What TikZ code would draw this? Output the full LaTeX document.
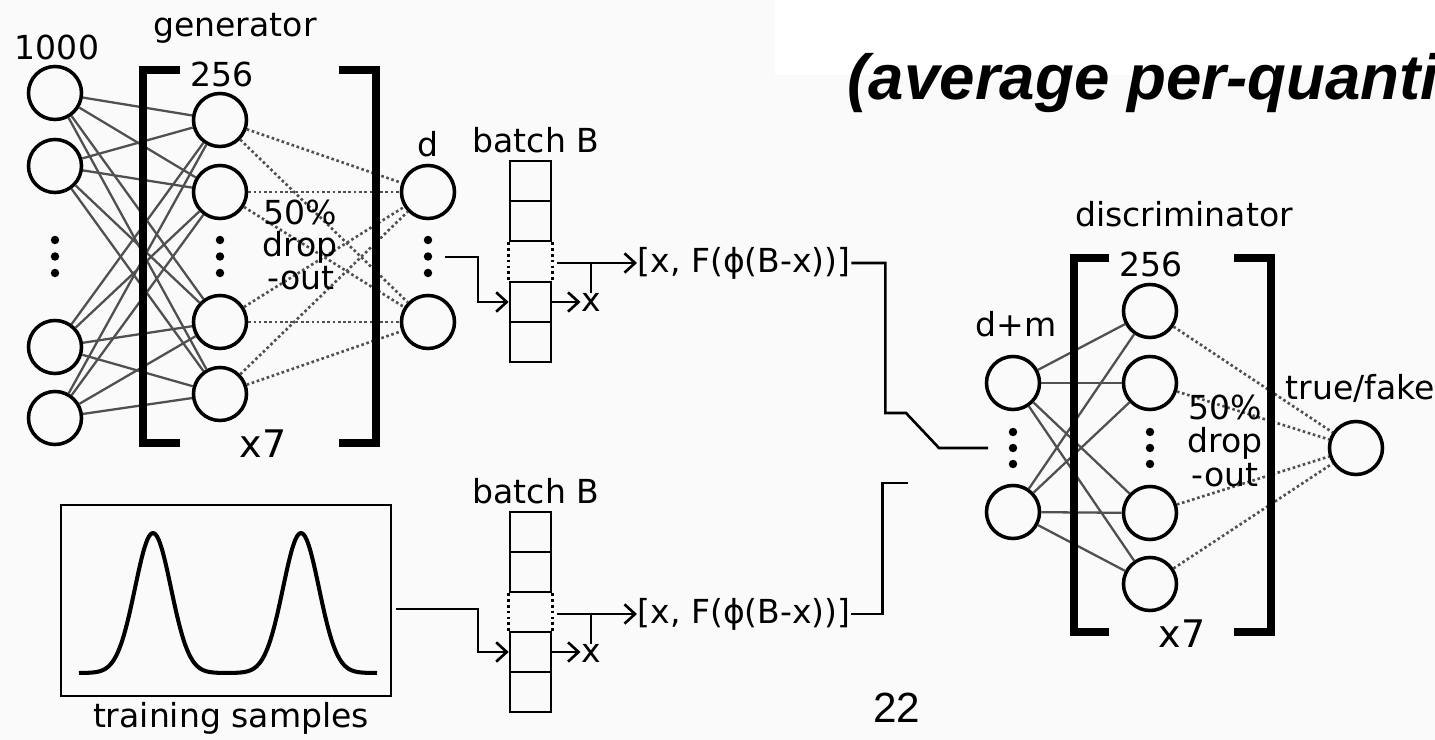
\documentclass[tikz,border=0pt]{standalone}
\usepackage{fontspec}
\setmainfont{DejaVu Sans}
\newfontfamily\hvfont{Liberation Sans}
\usetikzlibrary{arrows.meta}
\definecolor{bg}{RGB}{250,250,250}
\definecolor{conn}{RGB}{80,80,80}
\begin{document}
\begin{tikzpicture}[x=0.01cm,y=-0.01cm,
  neuron/.style={circle,draw=black,line width=1pt,minimum size=0.53cm,inner sep=0pt},
  lbl/.style={anchor=base,inner sep=0pt,font=\fontsize{9.4}{11}\selectfont},
  bigl/.style={anchor=base,inner sep=0pt,font=\fontsize{10.8}{13}\selectfont},
  solidc/.style={draw=conn,line width=0.65pt},
  dotc/.style={draw=conn,line width=0.75pt,dash pattern=on 0.75pt off 0.75pt},
  brk/.style={line width=2.3pt,line join=miter},
  wire/.style={line width=0.75pt},
  arr/.style={wire,-{Straight Barb[length=3pt,width=5.5pt]}},
  cell/.style={draw,line width=0.75pt,minimum width=0.41cm,minimum height=0.40cm,inner sep=0pt},
  gapdot/.style={line width=0.75pt,dash pattern=on 0.75pt off 0.9pt},
  formula/.style={anchor=west,inner sep=0pt,font=\fontsize{9.4}{11}\selectfont}
]
\useasboundingbox (0,0) rectangle (1435,740);
\fill[bg] (0,0) rectangle (1435,740);
\fill[white] (775,0) rectangle (1435,75);

% title and page number
\node[anchor=base west,inner sep=0pt,font=\hvfont\bfseries\itshape\fontsize{18.1}{21}\selectfont] (title) at (847,100) {(average per-quanti};
\node[anchor=base,inner sep=0pt,font=\hvfont\fontsize{12}{14}\selectfont] (pnum) at (897,723) {22};

% ---------- generator ----------
\node[neuron] (gi1) at (55,93) {};
\node[neuron] (gi2) at (55,166) {};
\node[neuron] (gi3) at (55,347) {};
\node[neuron] (gi4) at (55,418) {};
\node[neuron] (gh1) at (220,120) {};
\node[neuron] (gh2) at (220,192) {};
\node[neuron] (gh3) at (220,322) {};
\node[neuron] (gh4) at (220,394) {};
\node[neuron] (go1) at (428,192) {};
\node[neuron] (go2) at (428,322) {};

\foreach \i in {1,...,4} \foreach \j in {1,...,4} \draw[solidc] (gi\i) -- (gh\j);
\foreach \i in {1,...,4} \foreach \j in {1,2} \draw[dotc] (gh\i) -- (go\j);

\foreach \x in {55,220,428} \foreach \y in {240,256.5,273} \fill (\x,\y) circle (1.2pt);

\draw[brk] (180,70) -- (143,70) -- (143,443) -- (180,443);
\draw[brk] (339,70) -- (376,70) -- (376,443) -- (339,443);

\node[lbl] (lgen) at (235,37) {generator};
\node[lbl] (l1000) at (57,60) {1000};
\node[lbl] (l256g) at (222,87) {256};
\node[lbl] (ld) at (428,157) {d};
\node[lbl] (gd1) at (300,225) {50\%};
\node[lbl] (gd2) at (300,257) {drop};
\node[lbl] (gd3) at (301,290) {-out};
\node[bigl] (gx7) at (263,458) {x7};

% ---------- top batch ----------
\node[lbl] (lbt) at (536,153) {batch B};
\node[cell] (bt1) at (530.5,181) {};
\node[cell] (bt2) at (530.5,221) {};
\node[cell] (bt3) at (530.5,302) {};
\node[cell] (bt4) at (530.5,342) {};
\draw[gapdot] (bt2.south west) -- (bt3.north west);
\draw[gapdot] (bt2.south east) -- (bt3.north east);

\coordinate (gout) at (445,257);
\draw[arr] (gout) -- (478,257) |- (bt3.west);
\node[lbl] (xt) at (591,312) {x};
\draw[arr] (bt3.east) -- (bt3.east -| xt.west);
\coordinate (bto) at (557,263);
\node[formula] (tf1) at (637,263) {[x, F(ϕ(B-x))]};
\draw[arr] (bto) -- (tf1.west);
\draw[wire] (xt.north) -- (xt.north |- bto);
\coordinate (dmin) at (988,448);
\draw[wire] (tf1.east) -- ++(34,0) |- (906,413) -- (939,448) -- (dmin);

% ---------- training samples ----------
\node[draw,line width=0.75pt,minimum width=3.30cm,minimum height=1.91cm,inner sep=0pt] (ts) at (226,600.5) {};
\draw[line width=1.15pt,line join=round] plot[domain=79:377,samples=150,smooth]
  (\x,{673-140*(exp(-min(((\x-153)/18)*((\x-153)/18)/2,20))+exp(-min(((\x-301)/18)*((\x-301)/18)/2,20)))});
\node[lbl] (lts) at (231,728) {training samples};

% ---------- bottom batch ----------
\node[lbl] (lbb) at (536,504) {batch B};
\node[cell] (bb1) at (530.5,532) {};
\node[cell] (bb2) at (530.5,572) {};
\node[cell] (bb3) at (530.5,652) {};
\node[cell] (bb4) at (530.5,692) {};
\draw[gapdot] (bb2.south west) -- (bb3.north west);
\draw[gapdot] (bb2.south east) -- (bb3.north east);

\coordinate (tsout) at (396,609);
\draw[arr] (tsout) -- (478,609) |- (bb3.west);
\node[lbl] (xb) at (591,663) {x};
\draw[arr] (bb3.east) -- (bb3.east -| xb.west);
\coordinate (bbo) at (557,614);
\node[formula] (tf2) at (637,614) {[x, F(ϕ(B-x))]};
\draw[arr] (bbo) -- (tf2.west);
\draw[wire] (xb.north) -- (xb.north |- bbo);
\coordinate (dmin2) at (908,483);
\draw[wire] (tf2.east) -- ++(31,0) |- (dmin2);

% ---------- discriminator ----------
\node[neuron] (di1) at (1013,383) {};
\node[neuron] (di2) at (1013,512) {};
\node[neuron] (dh1) at (1150,311) {};
\node[neuron] (dh2) at (1150,383) {};
\node[neuron] (dh3) at (1150,513) {};
\node[neuron] (dh4) at (1150,584) {};
\node[neuron] (dout) at (1356,448) {};

\foreach \i in {1,2} \foreach \j in {1,...,4} \draw[solidc] (di\i) -- (dh\j);
\foreach \j in {1,...,4} \draw[dotc] (dh\j) -- (dout);

\foreach \x in {1013,1150} \foreach \y in {432,448,464} \fill (\x,\y) circle (1.2pt);

\draw[brk] (1109,258) -- (1074,258) -- (1074,632) -- (1109,632);
\draw[brk] (1234,258) -- (1271,258) -- (1271,632) -- (1234,632);

\node[lbl] (ldisc) at (1184,227) {discriminator};
\node[lbl] (l256d) at (1151,277) {256};
\node[lbl] (ldm) at (1016,337) {d+m};
\node[lbl,anchor=base west] (ltf) at (1285,400) {true/fake};
\node[lbl] (dd1) at (1225,420) {50\%};
\node[lbl] (dd2) at (1225,453) {drop};
\node[lbl] (dd3) at (1225,487) {-out};
\node[bigl] (dx7) at (1182,648) {x7};
\end{tikzpicture}
\end{document}
